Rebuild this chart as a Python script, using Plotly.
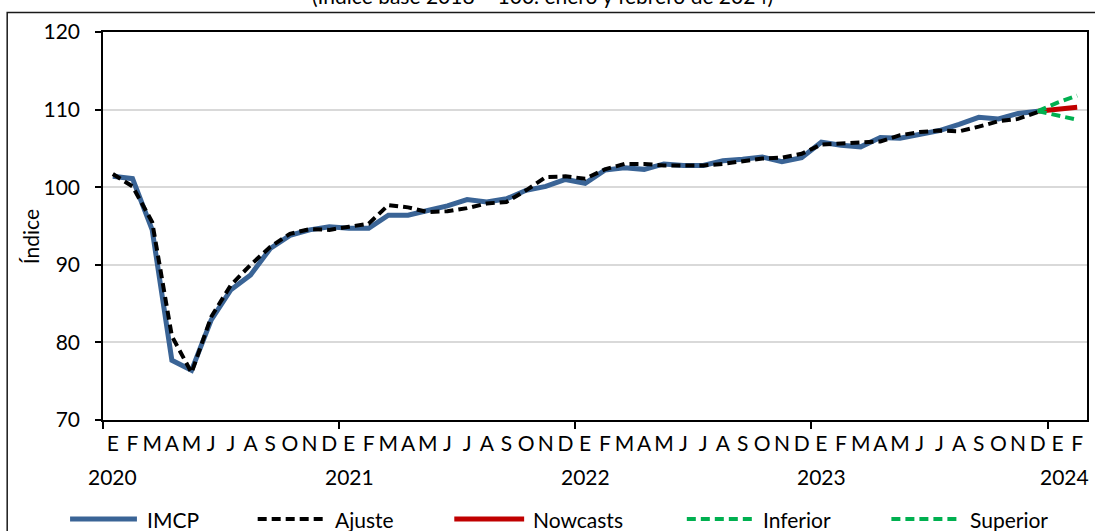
import plotly.graph_objects as go

# ---------------- data ----------------
months = ["E", "F", "M", "A", "M", "J", "J", "A", "S", "O", "N", "D"]
month_labels = months * 4 + ["E", "F"]
year_labels = ["2020", "2021", "2022", "2023", "2024"]
year_index = [0, 12, 24, 36, 48.35]

imcp = [101.4, 101.1, 94.5, 77.7, 76.4, 82.9, 86.8, 88.7, 92.1, 93.8, 94.5, 94.9,
        94.7, 94.7, 96.4, 96.4, 97.0, 97.6, 98.4, 98.1, 98.5, 99.6, 100.1, 101.0,
        100.5, 102.2, 102.5, 102.3, 103.0, 102.8, 102.8, 103.4, 103.6, 103.9, 103.3, 103.8,
        105.8, 105.4, 105.2, 106.4, 106.3, 106.8, 107.3, 108.1, 109.0, 108.8, 109.5, 109.8]
ajuste = [101.7, 100.1, 95.5, 80.8, 76.1, 83.3, 87.4, 90.0, 92.3, 94.0, 94.6, 94.5,
          94.9, 95.3, 97.7, 97.4, 96.8, 96.9, 97.3, 97.9, 98.1, 99.6, 101.3, 101.4,
          101.1, 102.3, 103.0, 103.0, 102.8, 102.8, 102.8, 103.0, 103.3, 103.7, 103.8, 104.3,
          105.5, 105.6, 105.8, 105.9, 106.7, 107.1, 107.3, 107.2, 107.8, 108.5, 108.8, 109.7]
hist_index = list(range(48))
fc_index = [47, 48, 49]
nowcasts = [109.8, 110.1, 110.3]
inferior = [109.8, 109.2, 108.7]
superior = [109.8, 110.9, 111.8]

title_text = "(Índice base 2018 = 100. enero y febrero de 2024)"
y_title = "Índice"

BLUE = "#3A6496"
RED = "#C00000"
GREEN = "#00B050"
FONT = "Lato"
FS = 21
DASH = "9px,5px"

# plot-area geometry in screen pixels (page body margin removed below)
L, R, T, B = 103, 1089, 32, 420
W, H = 1095, 531

def px(x):
    return (x - L) / (R - L)
def py(y):
    return (B - y) / (B - T)

fig = go.Figure()
fig.add_trace(go.Scatter(x=hist_index, y=imcp, mode="lines", name="IMCP",
                         line=dict(color=BLUE, width=5), showlegend=False))
fig.add_trace(go.Scatter(x=hist_index, y=ajuste, mode="lines", name="Ajuste",
                         line=dict(color="black", width=4, dash=DASH), showlegend=False))
fig.add_trace(go.Scatter(x=fc_index, y=nowcasts, mode="lines", name="Nowcasts",
                         line=dict(color=RED, width=5), showlegend=False))
fig.add_trace(go.Scatter(x=fc_index, y=inferior, mode="lines", name="Inferior",
                         line=dict(color=GREEN, width=4, dash=DASH), showlegend=False))
fig.add_trace(go.Scatter(x=fc_index, y=superior, mode="lines", name="Superior",
                         line=dict(color=GREEN, width=4, dash=DASH), showlegend=False))

shapes = []
annotations = []

# outer chart border
shapes.append(dict(type="rect", xref="paper", yref="paper",
                   x0=px(7), x1=px(1120), y0=py(560), y1=py(12.5),
                   line=dict(color="#1a1a1a", width=1.5), fillcolor="rgba(0,0,0,0)",
                   layer="below"))

# title (partly cut at top, as in the reference)
annotations.append(dict(text=title_text, xref="paper", yref="paper",
                        x=px(543), y=py(10), xanchor="center", yanchor="bottom",
                        showarrow=False, font=dict(family=FONT, size=FS, color="black")))
# y title
annotations.append(dict(text=y_title, xref="paper", yref="paper",
                        x=px(30), y=py(237), xanchor="center", yanchor="middle",
                        textangle=-90, showarrow=False,
                        font=dict(family=FONT, size=FS, color="black")))
# year labels
for lab, xi in zip(year_labels, year_index):
    annotations.append(dict(text=lab, x=xi, xref="x", yref="paper", y=py(476),
                            xanchor="center", yanchor="middle", showarrow=False,
                            font=dict(family=FONT, size=FS, color="black")))

# manual legend
legend_items = [
    ("IMCP", BLUE, None, 5, 70, 137, 145),
    ("Ajuste", "black", DASH, 4, 258, 328, 333),
    ("Nowcasts", RED, None, 5, 455, 525, 532),
    ("Inferior", GREEN, DASH, 4, 688, 755, 762),
    ("Superior", GREEN, DASH, 4, 893, 962, 970),
]
LEG_Y = 519
for name, col, dash, w, x0, x1, tx in legend_items:
    ln = dict(color=col, width=w)
    if dash:
        ln["dash"] = dash
    shapes.append(dict(type="line", xref="paper", yref="paper",
                       x0=px(x0), x1=px(x1), y0=py(LEG_Y), y1=py(LEG_Y), line=ln))
    annotations.append(dict(text=name, xref="paper", yref="paper", x=px(tx), y=py(LEG_Y),
                            xanchor="left", yanchor="middle", showarrow=False,
                            font=dict(family=FONT, size=FS, color="black")))

fig.update_layout(
    width=W, height=H,
    margin=dict(l=L, r=W - R, t=T, b=H - B),
    paper_bgcolor="white", plot_bgcolor="white",
    font=dict(family=FONT, size=FS, color="black"),
    showlegend=False,
    shapes=shapes, annotations=annotations,
    xaxis=dict(range=[-0.5, 49.5], tickmode="array", tickvals=list(range(50)),
               ticktext=month_labels, ticks="", showgrid=False, zeroline=False,
               showline=True, linecolor="black", linewidth=1.5, mirror=True,
               ticklabelstandoff=4,
               minor=dict(tickmode="linear", tick0=-0.5, dtick=12, ticks="outside",
                          ticklen=7, tickcolor="black", tickwidth=1.5, showgrid=False)),
    yaxis=dict(range=[70, 120], tickmode="linear", tick0=70, dtick=10,
               ticks="outside", ticklen=6, tickcolor="black", tickwidth=1.5,
               showgrid=True, gridcolor="#D9D9D9", gridwidth=1.5, zeroline=False,
               showline=True, linecolor="black", linewidth=1.5, mirror=True,
               ticklabelstandoff=11),
)

fig.write_html("out.html", config={"displayModeBar": False},
               post_script="document.body.style.margin='0px';document.body.style.overflow='hidden';")
